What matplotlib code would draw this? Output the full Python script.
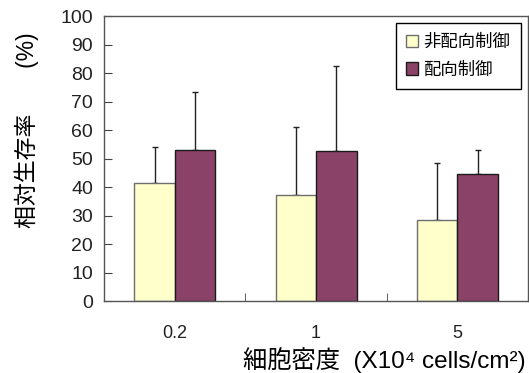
import numpy as np
import matplotlib
matplotlib.use("Agg")
from matplotlib import pyplot as plt

plt.rcParams['font.family'] = ['Liberation Sans', 'Noto Sans CJK JP', 'DejaVu Sans']

densities = ['0.2', '1', '5']
series_names = ['非配向制御', '配向制御']
survival_random = [41.5, 37.2, 28.4]
survival_aligned = [53.0, 52.7, 44.7]
err_random = [12.5, 24.0, 20.1]
err_aligned = [20.4, 29.6, 8.3]

colors = ['#ffffcc', '#8a4268']
edges = ['#6e6e6e', '#1a1a1a']

fig = plt.figure(figsize=(5.29, 3.73), dpi=100)
ax = fig.add_axes([0.197, 0.193, 0.801, 0.764])

x = np.arange(len(densities))
width = 0.287
for i, (vals, errs) in enumerate([(survival_random, err_random),
                                  (survival_aligned, err_aligned)]):
    pos = x + (i - 0.5) * width
    ax.bar(pos, vals, width, color=colors[i], edgecolor=edges[i],
           linewidth=1.0, label=series_names[i], zorder=2)
    ax.errorbar(pos, vals, yerr=[np.zeros(len(errs)), errs], fmt='none',
                ecolor='#222222', elinewidth=1.0, capsize=2.5, capthick=1.0,
                zorder=1)

ax.set_xlim(-0.5, len(densities) - 0.5)
ax.set_ylim(0, 100)
ax.set_yticks(np.arange(0, 101, 10))
ax.set_xticks(x)
ax.set_xticklabels(densities)
ax.set_xticks(np.arange(0.5, len(densities) - 0.5), minor=True)
ax.tick_params(axis='x', which='major', length=0, pad=17, labelsize=13,
               colors='#222222')
ax.tick_params(axis='x', which='minor', direction='in', length=6,
               color='#444444')
ax.tick_params(axis='y', direction='in', length=6, labelsize=14, pad=8,
               color='#444444', labelcolor='#222222')
for s in ax.spines.values():
    s.set_color('#555555')
    s.set_linewidth(1.0)

ax.set_ylabel('相対生存率　　(%)', fontsize=16.5)
ax.yaxis.set_label_coords(-0.155, 0.6)
ax.set_xlabel('細胞密度  (X10⁴ cells/cm²)', fontsize=17.5)
ax.xaxis.set_label_coords(0.662, -0.163)

leg = ax.legend(loc='upper right', bbox_to_anchor=(0.983, 0.977),
                prop={'family': ['Noto Sans CJK JP'], 'size': 12.5},
                fancybox=False, framealpha=1, edgecolor='black',
                handlelength=0.7, handleheight=0.7, handletextpad=0.3,
                borderpad=0.6, labelspacing=0.55, borderaxespad=0)
leg.get_frame().set_linewidth(1.0)

fig.savefig('out.png', dpi=100)
